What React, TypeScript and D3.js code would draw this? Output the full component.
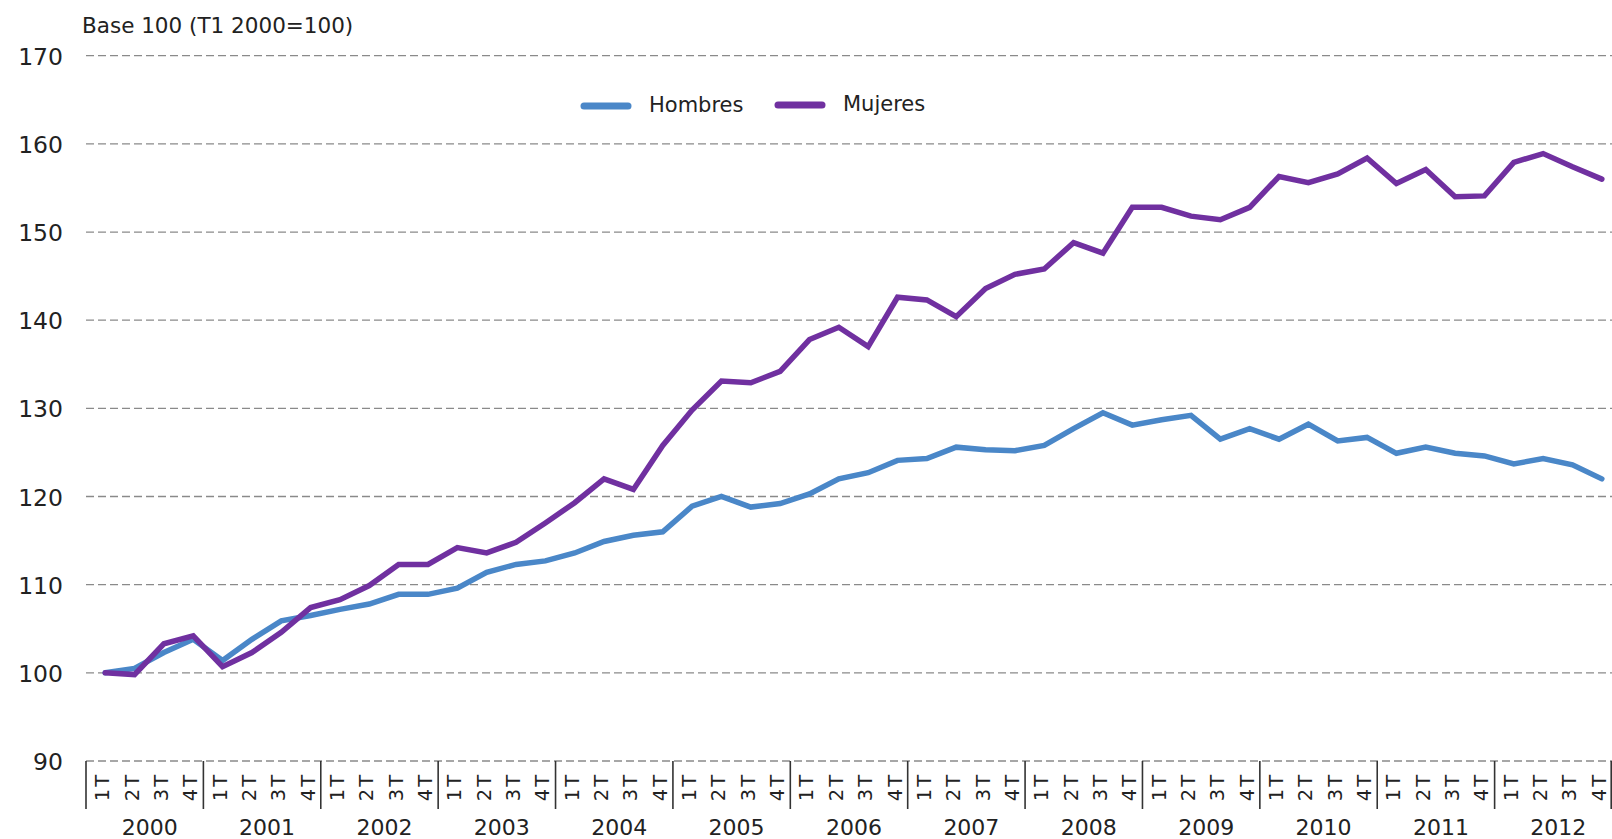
import React, { useEffect, useRef } from "react";
import * as d3 from "d3";

// --- Data ---
const years = ["2000", "2001", "2002", "2003", "2004", "2005", "2006", "2007", "2008", "2009", "2010", "2011", "2012"];
const quarters = ["1T", "2T", "3T", "4T"];
const yTicks = [90, 100, 110, 120, 130, 140, 150, 160, 170];

const hombres = [
  100, 100.5, 102.3, 103.8,
  101.4, 103.8, 105.9, 106.5,
  107.2, 107.8, 108.9, 108.9,
  109.6, 111.4, 112.3, 112.7,
  113.6, 114.9, 115.6, 116.0,
  118.9, 120.0, 118.8, 119.2,
  120.3, 122.0, 122.7, 124.1,
  124.3, 125.6, 125.3, 125.2,
  125.8, 127.7, 129.5, 128.1,
  128.7, 129.2, 126.5, 127.7,
  126.5, 128.2, 126.3, 126.7,
  124.9, 125.6, 124.9, 124.6,
  123.7, 124.3, 123.6, 122.0,
];

const mujeres = [
  100, 99.8, 103.3, 104.2,
  100.7, 102.3, 104.6, 107.4,
  108.3, 109.9, 112.3, 112.3,
  114.2, 113.6, 114.8, 117.0,
  119.3, 122.0, 120.8, 125.8,
  129.8, 133.1, 132.9, 134.2,
  137.8, 139.2, 137.0, 142.6,
  142.3, 140.4, 143.6, 145.2,
  145.8, 148.8, 147.6, 152.8,
  152.8, 151.8, 151.4, 152.8,
  156.3, 155.6, 156.6, 158.4,
  155.5, 157.1, 154.0, 154.1,
  157.9, 158.9, 157.4, 156.0,
];

const series = [
  { name: "Hombres", values: hombres, color: "#4a87c8" },
  { name: "Mujeres", values: mujeres, color: "#7030a0" },
];

const FONT = "'DejaVu Sans', sans-serif";

const App = () => {
  const svgRef = useRef<SVGSVGElement | null>(null);

  useEffect(() => {
    const width = 1612;
    const height = 839;
    const left = 86;
    const right = 1612;
    const top = 55.7;
    const bottom = 761;

    const svg = d3.select(svgRef.current);
    svg.selectAll("*").remove();
    svg.attr("width", width).attr("height", height).attr("viewBox", `0 0 ${width} ${height}`);

    const cats = years.flatMap((yr) => quarters.map((q) => `${yr}-${q}`));

    // quarter bands across the plot, points sit a bit right of band centre (as in the original)
    const x = d3.scaleBand().domain(cats).range([left, right]).padding(0);
    const xYear = d3.scaleBand().domain(years).range([left, right]).padding(0);
    const shift = 4.5;
    const px = (c: string) => (x(c) as number) + x.bandwidth() / 2 + shift;

    const y = d3.scaleLinear().domain([90, 170]).range([bottom, top]);

    // gridlines
    svg
      .append("g")
      .selectAll("line")
      .data(yTicks)
      .join("line")
      .attr("x1", left)
      .attr("x2", right)
      .attr("y1", (d) => y(d))
      .attr("y2", (d) => y(d))
      .attr("stroke", "#8a8a8a")
      .attr("stroke-width", 1.3)
      .attr("stroke-dasharray", "8,4");

    // y labels
    svg
      .append("g")
      .selectAll("text")
      .data(yTicks)
      .join("text")
      .attr("x", 63)
      .attr("y", (d) => y(d) + 1)
      .attr("text-anchor", "end")
      .attr("dominant-baseline", "central")
      .style("font-family", FONT)
      .style("font-size", "23.5px")
      .style("fill", "#222")
      .text((d) => d);

    // axis title
    svg
      .append("text")
      .attr("x", 82)
      .attr("y", 33)
      .style("font-family", FONT)
      .style("font-size", "21.5px")
      .style("fill", "#222")
      .text("Base 100 (T1 2000=100)");

    // year separators
    svg
      .append("g")
      .selectAll("line")
      .data([...years.map((yr) => xYear(yr) as number), right - 0.8])
      .join("line")
      .attr("x1", (d) => d)
      .attr("x2", (d) => d)
      .attr("y1", bottom)
      .attr("y2", 809)
      .attr("stroke", "#333")
      .attr("stroke-width", 1.6);

    // quarter labels (rotated)
    svg
      .append("g")
      .selectAll("text")
      .data(cats)
      .join("text")
      .attr("transform", (d) => `translate(${px(d) - 2.5}, 787) rotate(-90)`)
      .attr("text-anchor", "middle")
      .attr("dominant-baseline", "central")
      .style("font-family", FONT)
      .style("font-size", "19.5px")
      .style("letter-spacing", "2px")
      .style("fill", "#222")
      .text((d) => d.split("-")[1]);

    // year labels
    svg
      .append("g")
      .selectAll("text")
      .data(years)
      .join("text")
      .attr("x", (d) => (xYear(d) as number) + xYear.bandwidth() / 2 + 5)
      .attr("y", 835)
      .attr("text-anchor", "middle")
      .style("font-family", FONT)
      .style("font-size", "22px")
      .style("fill", "#222")
      .text((d) => d);

    // lines
    const line = d3
      .line<number>()
      .x((_, i) => px(cats[i]))
      .y((d) => y(d));

    series.forEach((s) => {
      svg
        .append("path")
        .datum(s.values)
        .attr("d", line)
        .attr("fill", "none")
        .attr("stroke", s.color)
        .attr("stroke-width", 5.5)
        .attr("stroke-linecap", "round")
        .attr("stroke-linejoin", "miter");
    });

    // legend
    const legendPos = [
      { x: 584, y: 106 },
      { x: 778, y: 105 },
    ];
    series.forEach((s, i) => {
      const g = svg.append("g").attr("transform", `translate(${legendPos[i].x}, ${legendPos[i].y})`);
      g.append("line")
        .attr("x1", 0)
        .attr("x2", 44)
        .attr("y1", 0)
        .attr("y2", 0)
        .attr("stroke", s.color)
        .attr("stroke-width", 7)
        .attr("stroke-linecap", "round");
      g.append("text")
        .attr("x", 65)
        .attr("y", -1)
        .attr("dominant-baseline", "central")
        .style("font-family", FONT)
        .style("font-size", "21px")
        .style("fill", "#222")
        .text(s.name);
    });
  }, []);

  return (
    <div style={{ position: "absolute", left: 0, top: 0, background: "#fff" }}>
      <svg ref={svgRef} style={{ display: "block" }}></svg>
    </div>
  );
};

export default App;
